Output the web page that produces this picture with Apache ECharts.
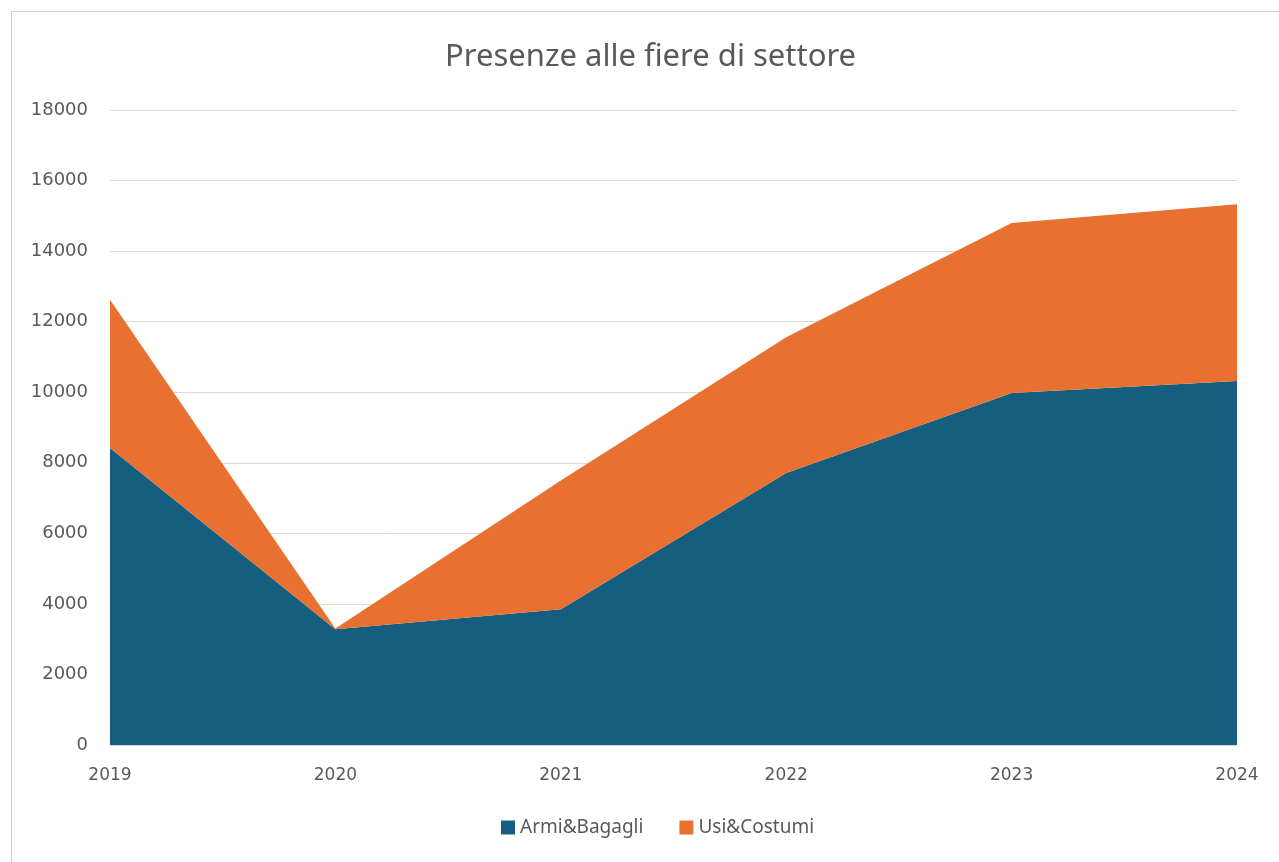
<!DOCTYPE html>
<html><head><meta charset="utf-8">
<script src="https://cdn.jsdelivr.net/npm/echarts@6/dist/echarts.min.js"></script>
<style>
html,body{margin:0;padding:0;background:#fff;}
#frame{position:absolute;left:11px;top:11px;width:1290px;height:870px;border:1px solid #d0d0d0;box-sizing:border-box;}
#c{position:absolute;left:0;top:0;width:1279px;height:862px;}
</style></head>
<body><div id="frame"></div><div id="c"></div>
<script>
const years = ['2019','2020','2021','2022','2023','2024'];
const armiBagagli = [8420, 3280, 3850, 7710, 9980, 10320];
const usiCostumi = [4200, 20, 3650, 3850, 4820, 5010];
const yTicks = {min:0, max:18000, interval:2000};

const chart = echarts.init(document.getElementById('c'));
const font = 'DejaVu Sans, sans-serif';
chart.setOption({
  animation:false,
  title:{text:'Presenze alle fiere di settore', left:440, top:37,
    textStyle:{fontFamily:'Noto Sans, sans-serif', fontSize:31, fontWeight:'normal', color:'#595959'}},
  grid:{left:110, right:42, top:110, bottom:117},
  legend:{bottom:20, left:496, itemWidth:14, itemHeight:14, itemGap:36, icon:'rect',
    textStyle:{fontFamily:'Noto Sans, sans-serif', fontSize:19, color:'#595959'}},
  xAxis:{type:'category', data:years, boundaryGap:false,
    axisLine:{show:true, lineStyle:{color:'#d9d9d9'}}, axisTick:{show:false},
    axisLabel:{fontFamily:font, fontSize:17, color:'#595959', margin:22}},
  yAxis:{type:'value', min:yTicks.min, max:yTicks.max, interval:yTicks.interval,
    axisLine:{show:false}, axisTick:{show:false},
    splitLine:{lineStyle:{color:'#d9d9d9', width:1}},
    axisLabel:{fontFamily:font, fontSize:18, color:'#595959', margin:22,
      formatter: v => String(v)}},
  series:[
    {name:'Armi&Bagagli', type:'line', stack:'t', data:armiBagagli, symbol:'none',
     lineStyle:{width:0}, areaStyle:{color:'#165E80', opacity:1}, itemStyle:{color:'#165E80'}},
    {name:'Usi&Costumi', type:'line', stack:'t', data:usiCostumi, symbol:'none',
     lineStyle:{width:0}, areaStyle:{color:'#E87132', opacity:1}, itemStyle:{color:'#E87132'}}
  ]
});
</script></body></html>
